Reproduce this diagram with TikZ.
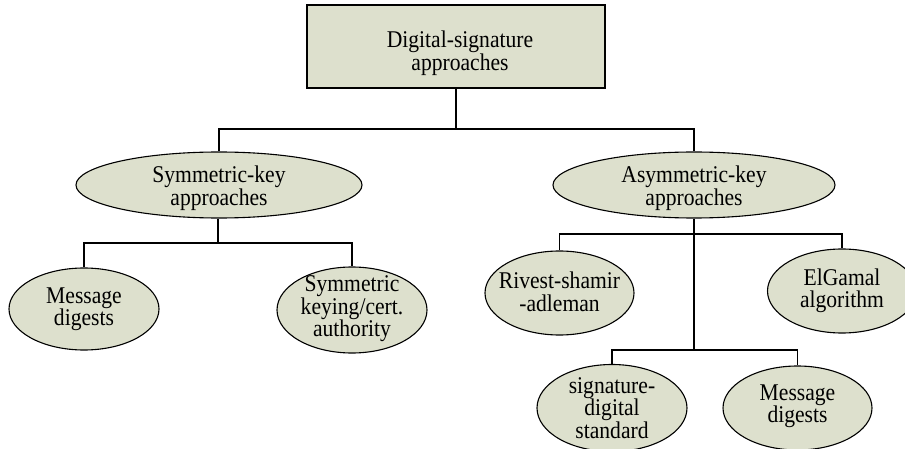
\documentclass[tikz,border=0pt]{standalone}
\usepackage{fontspec}
\setmainfont{Liberation Serif}[FakeStretch=0.9]
\usetikzlibrary{shapes.geometric}
\definecolor{sage}{RGB}{221,224,205}
\begin{document}
\begin{tikzpicture}[x=1pt,y=-1pt,
  conn/.style={line width=1.2pt,draw=black},
  thickconn/.style={line width=2pt,draw=black},
  rootbox/.style={draw=black,line width=1.3pt,fill=sage,rectangle,inner sep=0pt,minimum width=298pt,minimum height=83pt},
  ell/.style={draw=black,line width=1.1pt,fill=sage,ellipse,inner sep=0pt},
  lbl/.style={inner sep=0pt,align=center,font=\fontsize{24}{22.5}\selectfont}]
\useasboundingbox (0,0) rectangle (905,449);
% nodes
\node[rootbox] (root) at (456,46.5) {};
\node[lbl] (rootT) at (460,53) {Digital-signature\\approaches};
\node[ell,minimum width=286pt,minimum height=66pt] (sk) at (219,185) {};
\node[lbl] (skT) at (219,188) {Symmetric-key\\approaches};
\node[ell,minimum width=282pt,minimum height=66pt] (ak) at (694,185) {};
\node[lbl] (akT) at (694,188) {Asymmetric-key\\approaches};
\node[ell,minimum width=150pt,minimum height=82pt] (md1) at (84,309) {};
\node[lbl] (md1T) at (84,309) {Message\\digests};
\node[ell,minimum width=150pt,minimum height=86pt] (skc) at (352,310) {};
\node[lbl] (skcT) at (352,309) {Symmetric\\keying/cert.\\authority};
\node[ell,minimum width=149pt,minimum height=84pt] (rsa) at (559.5,293) {};
\node[lbl] (rsaT) at (559.5,292) {Rivest-shamir\\-adleman};
\node[ell,minimum width=149pt,minimum height=84pt] (elg) at (842,291) {};
\node[lbl] (elgT) at (842,291) {ElGamal\\algorithm};
\node[ell,minimum width=150pt,minimum height=87pt] (dss) at (612,408) {};
\node[lbl] (dssT) at (612,408) {signature-\\digital\\standard};
\node[ell,minimum width=149pt,minimum height=84pt] (md2) at (797.5,408) {};
\node[lbl] (md2T) at (797.5,406) {Message\\digests};
% junctions
\coordinate (j0) at (456,129);
\coordinate (j1) at (218,243);
\coordinate (j2) at (694,234);
\coordinate (j3) at (694,350);
% connectors
\draw[thickconn] (root.south) -- (j0);
\draw[conn] (j0) -| (sk);
\draw[conn] (j0) -| (ak);
\draw[thickconn] (sk.south -| j1) -- (j1);
\draw[conn] (j1) -| (md1);
\draw[conn] (j1) -| (skc);
\draw[conn] (ak.south) -- (j3);
\draw[conn] (j2) -| (rsa);
\draw[conn] (j2) -| (elg);
\draw[conn] (j3) -| (dss);
\draw[conn] (j3) -| (md2);
\end{tikzpicture}
\end{document}
